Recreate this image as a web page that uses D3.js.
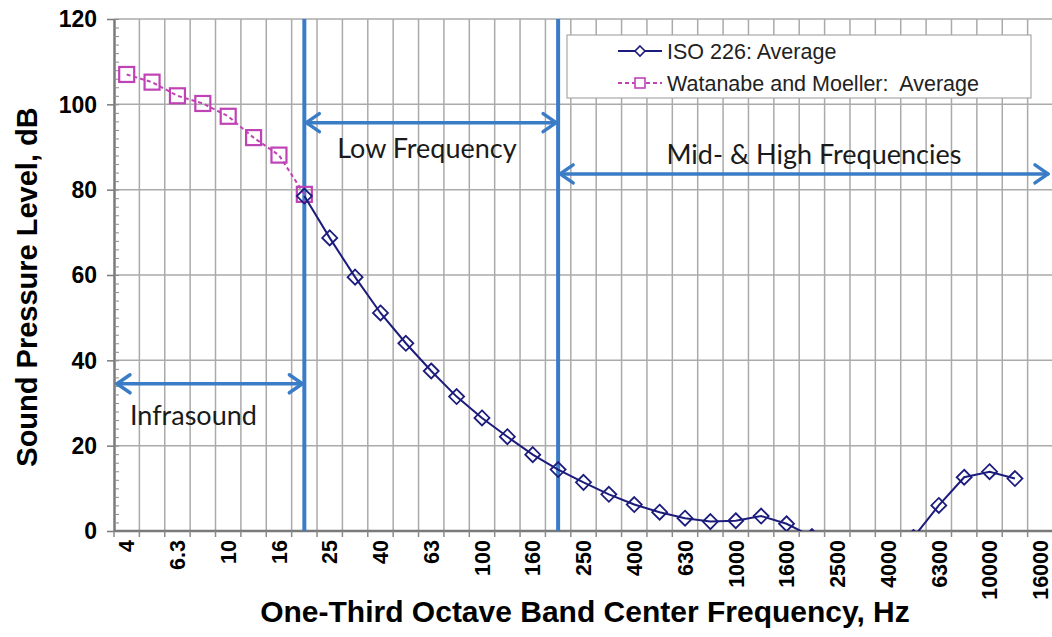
<!DOCTYPE html>
<html>
<head>
<meta charset="utf-8">
<script src="https://cdn.jsdelivr.net/npm/d3@7"></script>
<style>
  body { margin: 0; background: #fff; }
  svg { display: block; }
</style>
</head>
<body>
<svg id="chart" width="1052" height="637"></svg>
<script>
// one-third octave bands shown on the x axis
var bands = ["4","5","6.3","8","10","12.5","16","20","25","31.5","40","50","63","80","100",
	"125","160","200","250","315","400","500","630","800","1000","1250","1600","2000",
	"2500","3150","4000","5000","6300","8000","10000","12500","16000"];
var tickLabels = ["4","6.3","10","16","25","40","63","100","160","250","400","630",
	"1000","1600","2500","4000","6300","10000","16000"];
var yTicks = [0, 20, 40, 60, 80, 100, 120];

// ISO 226: average threshold, 20 Hz to 12.5 kHz
var isoBands = ["20","25","31.5","40","50","63","80","100","125","160","200","250","315",
	"400","500","630","800","1000","1250","1600","2000","2500","3150","4000","5000","6300",
	"8000","10000","12500"];
var isoValues = [78.5, 68.7, 59.5, 51.1, 44.0, 37.5, 31.5, 26.5, 22.1, 17.9, 14.4, 11.4, 8.6,
	6.2, 4.4, 3.0, 2.2, 2.4, 3.5, 1.7, -1.3, -4.2, -6.0, -5.4, -1.5, 6.0, 12.6, 13.9, 12.3];

// Watanabe and Moeller: average, 4 Hz to 20 Hz
var wmBands = ["4","5","6.3","8","10","12.5","16","20"];
var wmValues = [107, 105.2, 102, 100.2, 97.2, 92.2, 88.1, 78.9];

// frequency region markers (band where the divider sits) and labels
var dividers = ["20", "200"];
var regionNames = ["Infrasound", "Low Frequency", "Mid- & High Frequencies"];
var regionArrowDb = [34.5, 95.7, 83.7];
var regionLabelAt = [2.63, 11.83, 27.08]; // fractional band index of label centre
var regionLabelDb = [24.9, 87.5, 86];

(function() {
	var svg = d3.select("#chart"),
		pl = 114, pr = 1053, pt = 19, pb = 531,
		navy = "#1c1c7c",
		magenta = "#c043b6",
		blue = "#3b7cc6",
		grid = "#aaaaaa";

	var x = d3.scaleBand().domain(bands).range([pl, pr]);
	var bw = x.bandwidth();
	var y = d3.scaleLinear().domain([0, 120]).range([pb, pt]);
	var cx = function(b) { return x(b) + bw / 2; };
	var xAt = function(i) { return pl + (i + 0.5) * bw; };

	svg.append("defs").append("clipPath").attr("id", "plot")
		.append("rect").attr("x", pl).attr("y", pt)
		.attr("width", pr - pl).attr("height", pb - pt);

	// gridlines
	var g = svg.append("g");
	g.selectAll("line.v").data(bands.slice(1))
		.enter().append("line")
		.attr("x1", function(d) { return x(d); }).attr("x2", function(d) { return x(d); })
		.attr("y1", pt).attr("y2", pb)
		.attr("stroke", grid).attr("stroke-width", 1.5);
	g.selectAll("line.h").data(yTicks.slice(1))
		.enter().append("line")
		.attr("x1", pl).attr("x2", pr)
		.attr("y1", function(d) { return y(d); }).attr("y2", function(d) { return y(d); })
		.attr("stroke", grid).attr("stroke-width", 1.5);

	// y axis with minor ticks inside
	var yAxis = svg.append("g").attr("transform", "translate(" + pl + ",0)")
		.call(d3.axisLeft(y).tickValues(yTicks).tickSize(7).tickSizeOuter(0).tickFormat(""));
	yAxis.select(".domain").attr("stroke", "#7a7a7a").attr("stroke-width", 2.5);
	yAxis.selectAll(".tick line").attr("stroke", "#7a7a7a").attr("stroke-width", 1.5);
	svg.append("g").attr("transform", "translate(" + pl + ",0)")
		.call(d3.axisRight(y).tickValues(d3.range(0, 121, 2)).tickSize(5).tickFormat(""))
		.call(function(a) { a.select(".domain").remove(); })
		.selectAll(".tick line").attr("stroke", "#8a8a8a").attr("stroke-width", 1);

	svg.selectAll("text.ytick").data(yTicks)
		.enter().append("text")
		.attr("x", 97).attr("y", function(d) { return y(d); }).attr("dy", "0.36em")
		.attr("text-anchor", "end")
		.style("font", "bold 23px 'Liberation Sans', Arial, sans-serif")
		.text(function(d) { return d; });

	// x axis: ticks at band boundaries
	svg.append("line").attr("x1", pl).attr("x2", pr).attr("y1", pb).attr("y2", pb)
		.attr("stroke", "#7a7a7a").attr("stroke-width", 2.5);
	svg.selectAll("line.xtick").data(bands)
		.enter().append("line")
		.attr("x1", function(d) { return x(d); }).attr("x2", function(d) { return x(d); })
		.attr("y1", pb).attr("y2", pb + 6)
		.attr("stroke", "#8a8a8a").attr("stroke-width", 1.5);
	svg.selectAll("text.xtick").data(tickLabels)
		.enter().append("text")
		.attr("transform", function(d) { return "translate(" + cx(d) + "," + (pb + 9) + ") rotate(-90)"; })
		.attr("dy", "0.36em")
		.attr("text-anchor", "end")
		.style("font", "bold 21.5px 'Liberation Sans', Arial, sans-serif")
		.text(function(d) { return d; });

	// axis titles
	svg.append("text")
		.attr("transform", "translate(37," + ((pt + pb) / 2 + 12) + ") rotate(-90)")
		.attr("text-anchor", "middle")
		.style("font", "bold 29px 'Liberation Sans', Arial, sans-serif")
		.text("Sound Pressure Level, dB");
	svg.append("text")
		.attr("x", 585).attr("y", 622)
		.attr("text-anchor", "middle")
		.style("font", "bold 30px 'Liberation Sans', Arial, sans-serif")
		.text("One-Third Octave Band Center Frequency, Hz");

	// region dividers
	svg.selectAll("line.divider").data(dividers)
		.enter().append("line")
		.attr("x1", function(d) { return cx(d); }).attr("x2", function(d) { return cx(d); })
		.attr("y1", pt).attr("y2", pb)
		.attr("stroke", blue).attr("stroke-width", 4);

	// region arrows
	var edges = [pl + 1, cx(dividers[0]), cx(dividers[1]), pr - 3];
	var arrow = function(x1, x2, yy) {
		var a = svg.append("g").attr("stroke", blue).attr("stroke-width", 3.5)
			.attr("fill", "none").attr("stroke-linecap", "round").attr("stroke-linejoin", "round");
		a.append("line").attr("x1", x1 + 2).attr("x2", x2 - 2).attr("y1", yy).attr("y2", yy);
		a.append("path").attr("d", "M" + (x1 + 15) + "," + (yy - 9) + "L" + (x1 + 2) + "," + yy + "L" + (x1 + 15) + "," + (yy + 9));
		a.append("path").attr("d", "M" + (x2 - 15) + "," + (yy - 9) + "L" + (x2 - 2) + "," + yy + "L" + (x2 - 15) + "," + (yy + 9));
	};
	regionNames.forEach(function(name, i) {
		arrow(edges[i], edges[i + 1], y(regionArrowDb[i]));
		svg.append("text")
			.attr("x", xAt(regionLabelAt[i])).attr("y", y(regionLabelDb[i]))
			.attr("text-anchor", "middle")
			.attr("fill", "#1a1a1a")
			.style("font", "27px Lato, 'Open Sans', sans-serif")
			.text(name);
	});

	// series
	var plot = svg.append("g").attr("clip-path", "url(#plot)");
	var wm = wmBands.map(function(b, i) { return [cx(b), y(wmValues[i])]; });
	var iso = isoBands.map(function(b, i) { return [cx(b), y(isoValues[i])]; });

	plot.append("path").attr("d", d3.line()(wm))
		.attr("fill", "none").attr("stroke", magenta).attr("stroke-width", 2)
		.attr("stroke-dasharray", "4,3");
	plot.selectAll("rect.wm").data(wm)
		.enter().append("rect")
		.attr("x", function(d) { return d[0] - 7.5; }).attr("y", function(d) { return d[1] - 7.5; })
		.attr("width", 15).attr("height", 15)
		.attr("fill", "none").attr("stroke", magenta).attr("stroke-width", 2.2);

	plot.append("path").attr("d", d3.line()(iso))
		.attr("fill", "none").attr("stroke", navy).attr("stroke-width", 2);
	var diamond = function(s) { return "M0," + (-s) + "L" + s + ",0L0," + s + "L" + (-s) + ",0Z"; };
	plot.selectAll("path.iso").data(iso)
		.enter().append("path")
		.attr("transform", function(d) { return "translate(" + d[0] + "," + d[1] + ")"; })
		.attr("d", diamond(7.5))
		.attr("fill", "none").attr("stroke", navy).attr("stroke-width", 1.8);

	// legend
	var lg = svg.append("g");
	lg.append("rect").attr("x", 567).attr("y", 35).attr("width", 464).attr("height", 63)
		.attr("fill", "#fff").attr("stroke", "#a8a8a8").attr("stroke-width", 1.2);
	var legendRows = [
		{ name: "ISO 226: Average", color: navy, dash: null, shape: "d" },
		{ name: "Watanabe and Moeller:\u00a0 Average", color: magenta, dash: "4,3", shape: "s" }
	];
	legendRows.forEach(function(r, i) {
		var ly = 51 + i * 32;
		lg.append("line").attr("x1", 618).attr("x2", 662).attr("y1", ly).attr("y2", ly)
			.attr("stroke", r.color).attr("stroke-width", 2).attr("stroke-dasharray", r.dash);
		if (r.shape === "d") {
			lg.append("path").attr("transform", "translate(640," + ly + ")").attr("d", diamond(5))
				.attr("fill", "#fff").attr("stroke", r.color).attr("stroke-width", 1.6);
		} else {
			lg.append("rect").attr("x", 635).attr("y", ly - 5).attr("width", 10).attr("height", 10)
				.attr("fill", "#fff").attr("stroke", r.color).attr("stroke-width", 1.6);
		}
		lg.append("text").attr("x", 667).attr("y", ly).attr("dy", "0.36em")
			.attr("fill", "#222")
			.style("font", "21.5px 'Liberation Sans', Arial, sans-serif")
			.text(r.name);
	});
})();
</script>
</body>
</html>
